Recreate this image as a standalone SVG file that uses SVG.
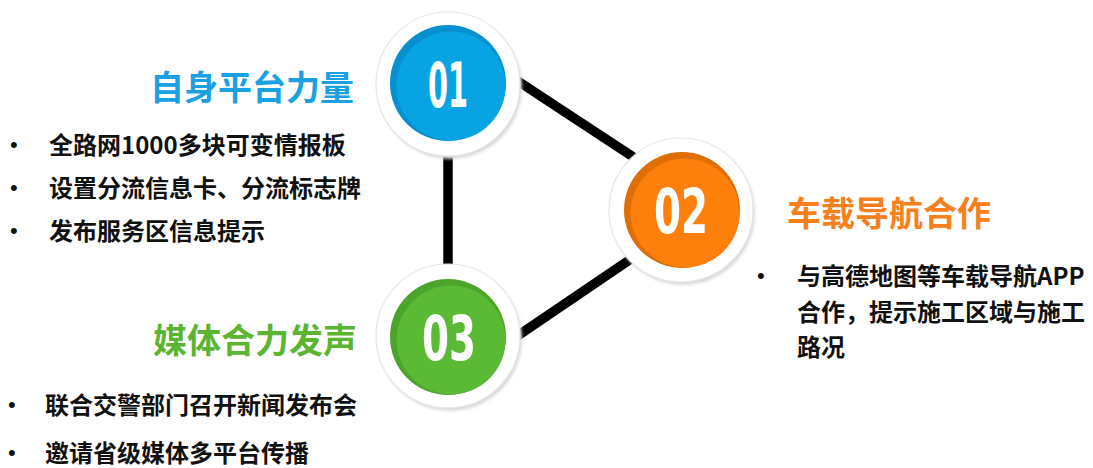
<svg xmlns="http://www.w3.org/2000/svg" width="1093" height="468" viewBox="0 0 1093 468">
<defs>
<filter id="sh" x="-20%" y="-20%" width="140%" height="140%"><feGaussianBlur stdDeviation="1.5"/></filter>
<style>
.ring{fill:#fff;stroke:#e6e6e6;stroke-width:1.2}
.shadow{fill:#dadada;filter:url(#sh)}
.num{font-family:"DejaVu Sans",sans-serif;font-weight:bold;font-size:62px;fill:#fff;text-anchor:middle}
.head{font-family:"Noto Sans CJK SC",sans-serif;font-weight:bold;font-size:34px}
.txt{font-family:"Noto Sans CJK SC",sans-serif;font-weight:bold;font-size:24px;fill:#111}
.dot{font-family:"Liberation Sans",sans-serif;font-size:22px;fill:#111}
.conn{stroke:#000;stroke-width:9.5;fill:none}
</style>
</defs>
<rect width="1093" height="468" fill="#fff"/>
<g id="connectors">
<line class="conn" x1="510" y1="76" x2="650" y2="168"/>
<line class="conn" x1="448" y1="140" x2="448" y2="280"/>
<line class="conn" x1="510" y1="341" x2="650" y2="246"/>
</g>
<g id="node01">
<circle class="shadow" cx="450" cy="87" r="72"/>
<circle class="ring" cx="448" cy="84" r="72"/>
<circle cx="448" cy="83" r="58" fill="#0690d0"/>
<circle cx="451" cy="86" r="54.5" fill="#08a3e3"/>
<text class="num" x="448" y="107" textLength="40" lengthAdjust="spacingAndGlyphs">01</text>
</g>
<g id="node02">
<circle class="shadow" cx="683" cy="213" r="72"/>
<circle class="ring" cx="681" cy="210" r="72"/>
<circle cx="682" cy="210" r="58" fill="#de6e05"/>
<circle cx="685" cy="213" r="54.5" fill="#fd7f0c"/>
<text class="num" x="681" y="233" textLength="54" lengthAdjust="spacingAndGlyphs">02</text>
</g>
<g id="node03">
<circle class="shadow" cx="450" cy="339" r="72"/>
<circle class="ring" cx="448" cy="336" r="72"/>
<circle cx="448" cy="337" r="58" fill="#4ba42c"/>
<circle cx="451" cy="340" r="54.5" fill="#5ab935"/>
<text class="num" x="449" y="360" textLength="54" lengthAdjust="spacingAndGlyphs">03</text>
</g>
<g id="label01">
<text class="head" x="150" y="100" fill="#1ba0e2">自身平台力量</text>
<text class="dot" x="10" y="152">•</text>
<text class="dot" x="10" y="195">•</text>
<text class="dot" x="10" y="238">•</text>
<text class="txt" x="49" y="154">全路网1000多块可变情报板</text>
<text class="txt" x="49" y="197">设置分流信息卡、分流标志牌</text>
<text class="txt" x="49" y="240">发布服务区信息提示</text>
</g>
<g id="label02">
<text class="head" x="787" y="226" fill="#f7801c">车载导航合作</text>
<text class="dot" x="757" y="283">•</text>
<text class="txt" x="797" y="285">与高德地图等车载导航APP</text>
<text class="txt" x="797" y="321">合作，提示施工区域与施工</text>
<text class="txt" x="797" y="356">路况</text>
</g>
<g id="label03">
<text class="head" x="153" y="353" fill="#5cb531">媒体合力发声</text>
<text class="dot" x="8" y="412">•</text>
<text class="dot" x="8" y="460">•</text>
<text class="txt" x="45" y="414">联合交警部门召开新闻发布会</text>
<text class="txt" x="45" y="462">邀请省级媒体多平台传播</text>
</g>
</svg>
